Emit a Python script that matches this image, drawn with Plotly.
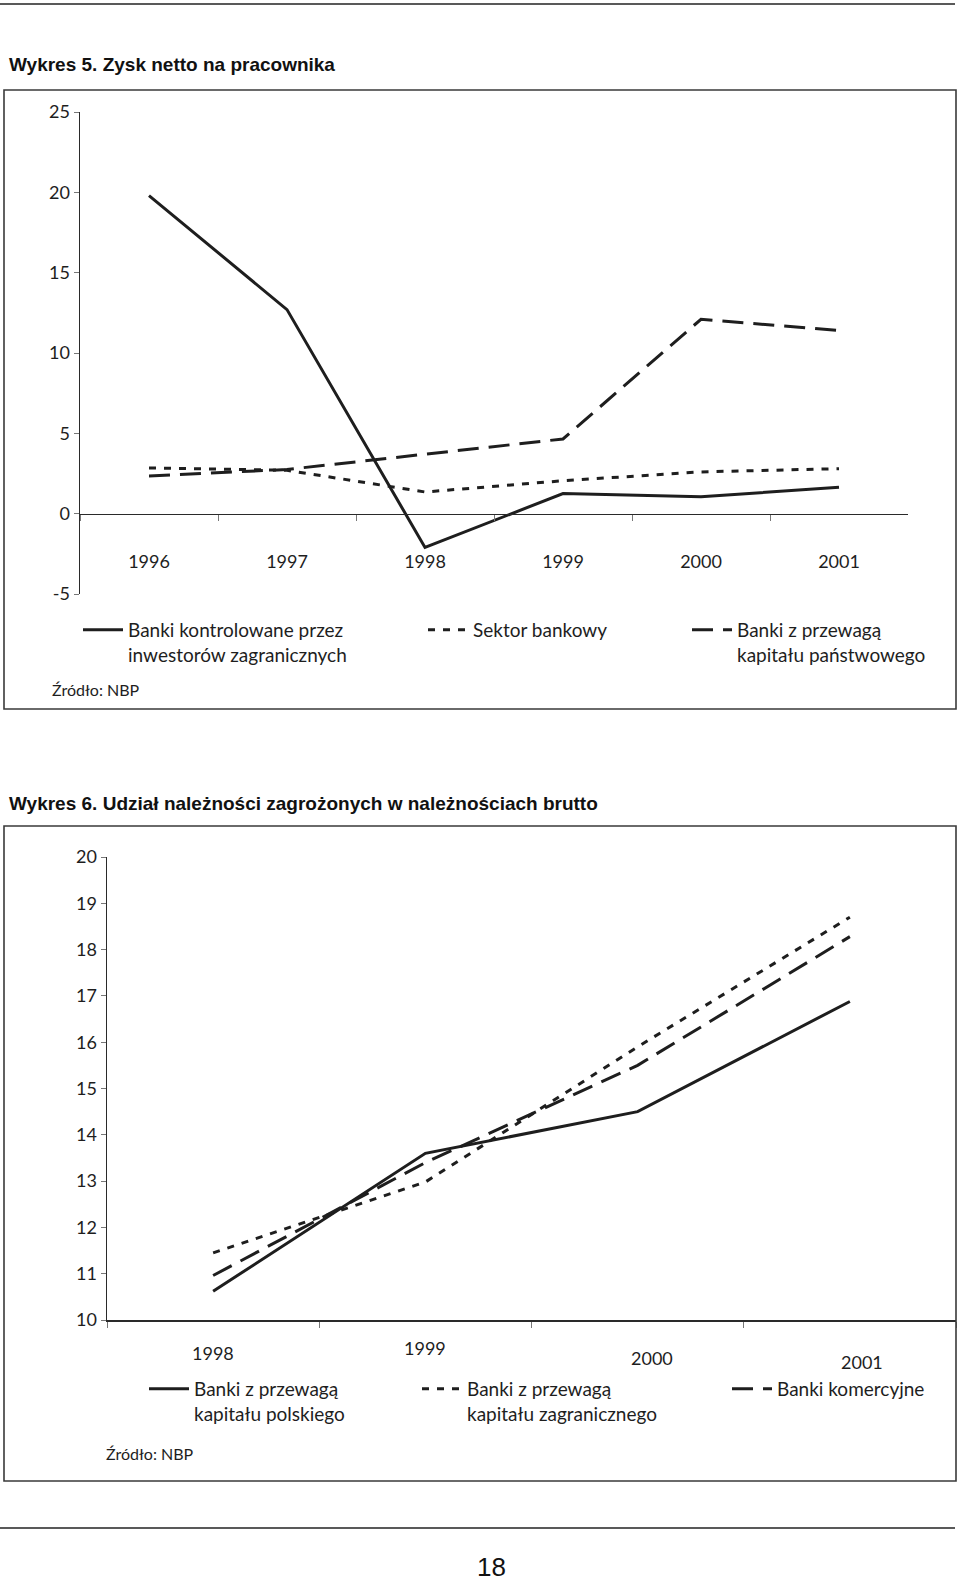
import plotly.graph_objects as go

W, H = 960, 1585


def px_x(x):
    return x / W


def px_y(y):
    return 1 - y / H


# ---------------- data: Wykres 5 ----------------
years1 = ["1996", "1997", "1998", "1999", "2000", "2001"]
foreign_ctrl = [19.8, 12.7, -2.1, 1.25, 1.05, 1.65]
sector = [2.85, 2.7, 1.35, 2.05, 2.6, 2.8]
state = [2.35, 2.75, 3.7, 4.65, 12.1, 11.4]
y1_ticks = [-5, 0, 5, 10, 15, 20, 25]
y1_ticktext = ["-5", "0", "5", "10", "15", "20", "25"]
names1 = ["Banki kontrolowane przez<br>inwestorów zagranicznych",
          "Sektor bankowy",
          "Banki z przewagą<br>kapitału państwowego"]

# ---------------- data: Wykres 6 ----------------
years2 = ["1998", "1999", "2000", "2001"]
polish = [10.62, 13.6, 14.5, 16.88]
foreign = [11.45, 12.98, 15.9, 18.7]
commercial = [10.96, 13.4, 15.5, 18.28]
y2_ticks = [10, 11, 12, 13, 14, 15, 16, 17, 18, 19, 20]
names2 = ["Banki z przewagą<br>kapitału polskiego",
          "Banki z przewagą<br>kapitału zagranicznego",
          "Banki komercyjne"]

# style: the printed year labels of Wykres 6 sit at slightly uneven places
year2_label_dx = [0, 0, 14, 12]
year2_label_y = [1353, 1348, 1358, 1362]

INK = "#1e1e1e"
AX = "#2a2a2a"
FONT = "Lato"
SOLID = "solid"
DOT = "7px,8px"
DASH = "21px,10px"

fig = go.Figure()

series1 = [foreign_ctrl, sector, state]
dashes = [SOLID, DOT, DASH]
for i, (vals, nm, d) in enumerate(zip(series1, names1, dashes)):
    fig.add_trace(go.Scatter(x=years1, y=vals, name=nm, mode="lines",
                             line=dict(color=INK, width=3, dash=d),
                             xaxis="x", yaxis="y",
                             legend="legend" if i == 0 else f"legend{i+1}",
                             hoverinfo="skip"))

series2 = [polish, foreign, commercial]
for i, (vals, nm, d) in enumerate(zip(series2, names2, dashes)):
    fig.add_trace(go.Scatter(x=years2, y=vals, name=nm, mode="lines",
                             line=dict(color=INK, width=3, dash=d),
                             xaxis="x2", yaxis="y2",
                             legend=f"legend{i+4}",
                             hoverinfo="skip"))

# axes geometry
y1_dom = [px_y(594), px_y(112)]
y1_range = [-5, 25]
zero_pos = y1_dom[0] + (0 - y1_range[0]) / (y1_range[1] - y1_range[0]) * (y1_dom[1] - y1_dom[0])

tickfont = dict(family=FONT, size=18, color=INK)
common_ax = dict(showline=True, linecolor=AX, linewidth=1.5, ticks="outside",
                 tickwidth=1, tickcolor="#777", showgrid=False, zeroline=False,
                 tickfont=tickfont, fixedrange=True, automargin=False)

layout = dict(
    template="none",
    width=W, height=H, autosize=False,
    margin=dict(l=0, r=0, t=0, b=0, pad=0),
    paper_bgcolor="white", plot_bgcolor="white",
    showlegend=True,
    xaxis=dict(domain=[px_x(80), px_x(908)], anchor="free", position=zero_pos,
               type="category", range=[-0.5, 5.5], tickson="boundaries",
               ticklen=6, ticklabelstandoff=31, **common_ax),
    yaxis=dict(domain=y1_dom, range=y1_range, anchor="x", ticklen=5,
               tickvals=y1_ticks, ticktext=y1_ticktext, **common_ax),
    xaxis2=dict(domain=[px_x(107), px_x(956)], anchor="y2", type="category",
                range=[-0.5, 3.5], tickson="boundaries", ticklen=6,
                showticklabels=False, **common_ax),
    yaxis2=dict(domain=[px_y(1320), px_y(857)], range=[10, 20], anchor="x2",
                ticklen=5, tickvals=y2_ticks, **common_ax),
)

leg_common = dict(xanchor="left", yanchor="top", bgcolor="rgba(0,0,0,0)",
                  borderwidth=0, font=dict(family=FONT, size=19, color=INK),
                  valign="top", itemwidth=40, itemclick=False, itemdoubleclick=False)
leg_pos = [(88, 611), (433, 611), (697, 611), (154, 1370), (427, 1370), (737, 1370)]
for i, (lx, ly) in enumerate(leg_pos):
    key = "legend" if i == 0 else f"legend{i+1}"
    layout[key] = dict(x=px_x(lx - 10), y=px_y(ly), **leg_common)

fig.update_layout(**layout)

# year labels of Wykres 6, placed on the x2 category scale (index of each year)
for idx, (yr, dx, ly) in enumerate(zip(years2, year2_label_dx, year2_label_y)):
    fig.add_annotation(xref="x2", yref="paper", x=idx, y=px_y(ly), xshift=dx,
                       xanchor="center", yanchor="middle", showarrow=False,
                       text=yr, font=tickfont)

# frames and rules
line_style = dict(color="#3a3a3a", width=1.6)
fig.add_shape(type="line", xref="paper", yref="paper", x0=0, x1=px_x(955),
              y0=px_y(4), y1=px_y(4), line=dict(color="#222", width=1.6))
fig.add_shape(type="rect", xref="paper", yref="paper", x0=px_x(4), x1=px_x(956),
              y0=px_y(709), y1=px_y(90), line=line_style)
fig.add_shape(type="rect", xref="paper", yref="paper", x0=px_x(4), x1=px_x(956),
              y0=px_y(1481), y1=px_y(826), line=line_style)
fig.add_shape(type="line", xref="paper", yref="paper", x0=0, x1=px_x(955),
              y0=px_y(1528), y1=px_y(1528), line=dict(color="#222", width=1.6))

title_font = dict(family="Liberation Sans", size=19, color="#111")
fig.add_annotation(xref="paper", yref="paper", x=px_x(7), y=px_y(64),
                   xanchor="left", yanchor="middle", showarrow=False,
                   text="<b>Wykres 5. Zysk netto na pracownika</b>", font=title_font)
fig.add_annotation(xref="paper", yref="paper", x=px_x(7), y=px_y(803),
                   xanchor="left", yanchor="middle", showarrow=False,
                   text="<b>Wykres 6. Udział należności zagrożonych w należnościach brutto</b>",
                   font=title_font)
src_font = dict(family=FONT, size=16, color=INK)
fig.add_annotation(xref="paper", yref="paper", x=px_x(50), y=px_y(690),
                   xanchor="left", yanchor="middle", showarrow=False,
                   text="Źródło: NBP", font=src_font)
fig.add_annotation(xref="paper", yref="paper", x=px_x(104), y=px_y(1453),
                   xanchor="left", yanchor="middle", showarrow=False,
                   text="Źródło: NBP", font=src_font)
fig.add_annotation(xref="paper", yref="paper", x=px_x(491), y=px_y(1584),
                   xanchor="center", yanchor="bottom", showarrow=False,
                   text="18", font=dict(family="Liberation Sans", size=26, color="#111"))

post = ("document.body.style.margin='0';document.body.style.overflow='hidden';"
        "var d=document.getElementById('{plot_id}');"
        "d.style.position='absolute';d.style.left='0px';d.style.top='0px';")
fig.write_html("out.html", config=dict(displayModeBar=False, staticPlot=True),
               post_script=post)
